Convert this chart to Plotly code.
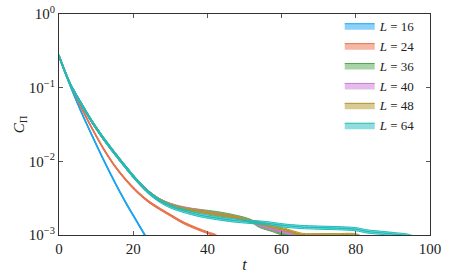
import plotly.graph_objects as go

# ---- data ----
labels = ["L = 16", "L = 24", "L = 36", "L = 40", "L = 48", "L = 64"]
colors = ["#1aa3f0", "#e8704a", "#4fa84f", "#c77ad6", "#b3952a", "#1fbcbc"]

t16 = [0, 3, 6, 9, 12, 15, 18, 21, 23.2, 24.5]
c16 = [0.269, 0.107, 0.0468, 0.0219, 0.0105, 0.00525, 0.00275, 0.00152, 0.00099, 0.0008]

t24 = [0, 3, 6, 9, 12, 15, 18, 21, 24, 27, 30, 33.4, 37, 40.2, 42.5]
c24 = [0.269, 0.112, 0.0537, 0.0275, 0.0148, 0.0087, 0.00562, 0.00389, 0.00288,
       0.00229, 0.00186, 0.00148, 0.00123, 0.00107, 0.00097]

t36 = [0, 3, 6, 9, 12, 15, 18, 21, 24, 27, 30, 33.4, 38, 42.5, 47, 51.5, 54,
       57.7, 61, 66]
c36 = [0.269, 0.112, 0.0603, 0.0339, 0.0204, 0.0129, 0.00832, 0.0055, 0.00389,
       0.00302, 0.00257, 0.00229, 0.00214, 0.002, 0.00182, 0.00158, 0.00132,
       0.00115, 0.001, 0.00095]

t40 = [0, 3, 6, 9, 12, 15, 18, 21, 24, 27, 30, 33.4, 38, 42.5, 47, 51.5, 54,
       57.7, 61, 64, 66]
c40 = [0.269, 0.112, 0.0603, 0.0339, 0.0204, 0.0129, 0.00832, 0.0055, 0.00389,
       0.00302, 0.0026, 0.00234, 0.00212, 0.00192, 0.00177, 0.00155, 0.00138,
       0.0012, 0.0011, 0.001, 0.00089]

t48 = [0, 3, 6, 9, 12, 15, 18, 21, 24, 27, 30, 33.4, 38, 42.5, 47, 51.5, 54,
       57.7, 60.5, 63, 65.8, 70, 75, 80, 82]
c48 = [0.269, 0.112, 0.0603, 0.0339, 0.0204, 0.0129, 0.00832, 0.0055, 0.00389,
       0.00302, 0.00257, 0.00229, 0.00209, 0.0019, 0.00176, 0.00155, 0.00145,
       0.00129, 0.0012, 0.0011, 0.00101, 0.001005, 0.001005, 0.001, 0.00089]

t64 = [0, 3, 6, 9, 12, 15, 18, 21, 24, 27, 30, 33.4, 38, 42.5, 47, 51.5, 56,
       60.4, 65, 70, 75, 80, 83, 87, 91, 94, 96]
c64 = [0.269, 0.112, 0.0603, 0.0339, 0.0204, 0.0129, 0.00832, 0.0055, 0.00385,
       0.00295, 0.00245, 0.00214, 0.00186, 0.0017, 0.00158, 0.00151, 0.00145,
       0.00135, 0.00129, 0.00126, 0.00124, 0.0012, 0.00112, 0.00107, 0.00102,
       0.00098, 0.00089]

band_frac = [0.03, 0.03, 0.04, 0.04, 0.04, 0.05]

ytick_vals = [1, 0.1, 0.01, 0.001]
ytick_text = ["10<sup>0</sup>", "10<sup>−1</sup>", "10<sup>−2</sup>", "10<sup>−3</sup>"]
xtick_vals = [0, 20, 40, 60, 80, 100]

series = [(t16, c16), (t24, c24), (t36, c36), (t40, c40), (t48, c48), (t64, c64)]


def rgba(hexc, a):
    h = hexc.lstrip("#")
    r, g, b = int(h[0:2], 16), int(h[2:4], 16), int(h[4:6], 16)
    return f"rgba({r},{g},{b},{a})"


fig = go.Figure()
for (tt, cc), lab, col, bf in zip(series, labels, colors, band_frac):
    up = [v * (1 + bf) for v in cc]
    lo = [v * (1 - bf) for v in cc]
    fig.add_trace(go.Scatter(
        x=list(tt) + list(tt)[::-1], y=up + lo[::-1],
        fill="toself", fillcolor=rgba(col, 0.5),
        line=dict(color=col, width=1, shape="spline", smoothing=0.8),
        mode="lines", name="<i>L</i> = " + lab.split("= ")[1],
        hoverinfo="skip"))
    fig.add_trace(go.Scatter(
        x=tt, y=cc, mode="lines", showlegend=False,
        line=dict(color=col, width=1.4, shape="spline", smoothing=0.8)))

axis_common = dict(
    showline=True, linecolor="#333333", linewidth=1.2, mirror="ticks",
    ticks="inside", ticklen=4, tickwidth=1, tickcolor="#555555",
    showgrid=False, zeroline=False, automargin=False,
    tickfont=dict(family="Liberation Serif", size=15, color="#222222"),
)

fig.update_layout(
    width=449, height=273,
    margin=dict(l=59, r=19, t=13, b=38),
    paper_bgcolor="white", plot_bgcolor="white",
    font=dict(family="Liberation Serif", size=14, color="#222222"),
    xaxis=dict(range=[0, 100], tickvals=xtick_vals,
               title=dict(text="<i>t</i>", standoff=2,
                          font=dict(family="Liberation Serif", size=16)),
               **axis_common),
    yaxis=dict(type="log", range=[-3, 0], tickvals=ytick_vals, ticktext=ytick_text,
               title=dict(text="<i>C</i><sub>Π</sub>", standoff=0,
                          font=dict(family="Liberation Serif", size=15)),
               **axis_common),
    legend=dict(x=0.975, y=1.01, xanchor="right", yanchor="top",
                bgcolor="rgba(0,0,0,0)", borderwidth=0,
                font=dict(family="Liberation Serif", size=13),
                itemwidth=30, tracegroupgap=0),
    showlegend=True,
)

fig.write_html(
    "out.html",
    config={"displayModeBar": False},
    post_script="document.body.style.margin='0';document.body.style.padding='0';",
)
